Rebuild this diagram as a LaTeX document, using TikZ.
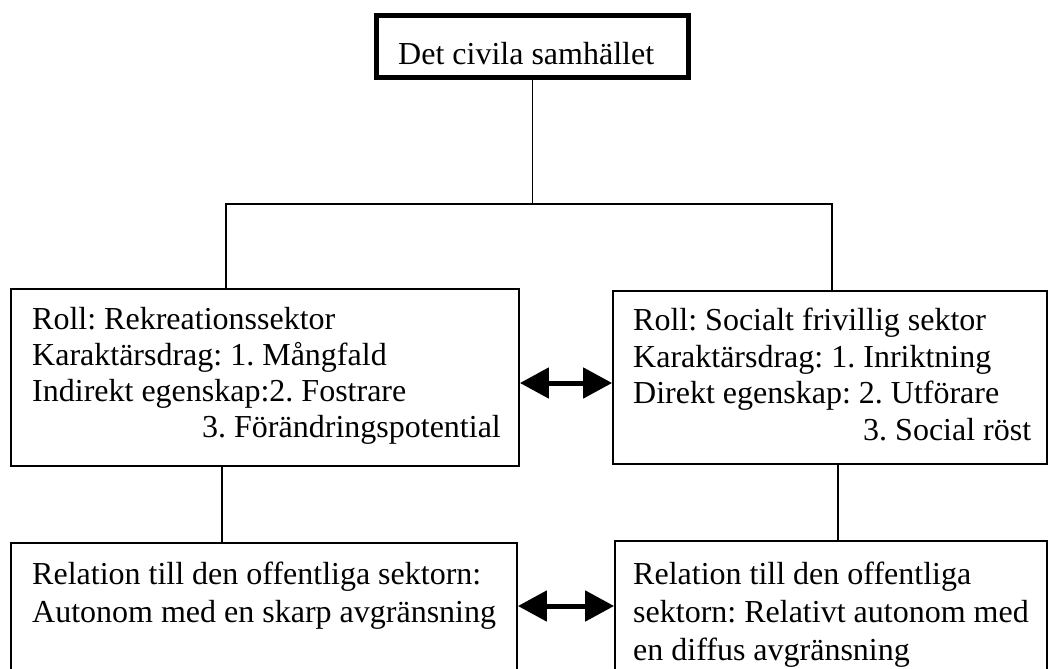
\documentclass[tikz,border=0pt]{standalone}
\usepackage{fontspec}
\setmainfont{Liberation Serif}
\usetikzlibrary{arrows.meta}
\frenchspacing
\begin{document}
\begin{tikzpicture}[x=1pt,y=-1pt,
  box/.style={draw=black, line width=1.8pt, rectangle, inner sep=0pt},
  thickbox/.style={draw=black, line width=5pt, rectangle, inner sep=0pt},
  txt/.style={anchor=base west, inner sep=0pt, font=\fontsize{32}{38}\selectfont},
  conn/.style={draw=black, line width=1.8pt},
  dbl/.style={draw=black, line width=5pt, {Triangle[length=29pt,width=30pt]}-{Triangle[length=29pt,width=30pt]}}
]
\useasboundingbox (0,0) rectangle (1050,669);
\clip (0,0) rectangle (1050,669);
\fill[white] (0,0) rectangle (1050,669);

% boxes
\node[thickbox, minimum width=312, minimum height=62] (top) at (532.5,46.5) {};
\node[box, minimum width=508, minimum height=177] (lm) at (265,377.5) {};
\node[box, minimum width=434, minimum height=173] (rm) at (830,377.5) {};
\node[box, minimum width=506, minimum height=157] (lb) at (264,621.5) {};
\node[box, minimum width=432, minimum height=159] (rb) at (831,620.5) {};

% texts
\node[txt] (t0) at (398,65) {Det civila samhället};

\node[txt] (l1) at (32,329) {Roll: Rekreationssektor};
\node[txt] (l2) at (32,365) {Karaktärsdrag: 1. Mångfald};
\node[txt] (l3) at (32,401) {Indirekt egenskap:2. Fostrare};
\node[txt] (l4) at (202,437) {3. Förändringspotential};

\node[txt] (r1) at (633,330) {Roll: Socialt frivillig sektor};
\node[txt] (r2) at (633,367) {Karaktärsdrag: 1. Inriktning};
\node[txt] (r3) at (633,403) {Direkt egenskap: 2. Utförare};
\node[txt] (r4) at (863,440) {3. Social röst};

\node[txt] (b1) at (32,584) {Relation till den offentliga sektorn:};
\node[txt] (b2) at (32,622) {Autonom med en skarp avgränsning};

\node[txt] (c1) at (633,584) {Relation till den offentliga};
\node[txt] (c2) at (633,622) {sektorn: Relativt autonom med};
\node[txt] (c3) at (633,660) {en diffus avgränsning};

% connectors
\coordinate (j) at (532.5,204);
\coordinate (jl) at (226,204);
\coordinate (jr) at (832,204);
\coordinate (dl) at (222,0);
\coordinate (dr) at (838,0);
\coordinate (ya) at (0,383);
\coordinate (yb) at (0,606);

\draw[conn] (top.south) -- (j);
\draw[conn] (jl |- lm.north) -- (jl) -- (jr) -- (jr |- rm.north);
\draw[conn] (dl |- lm.south) -- (dl |- lb.north);
\draw[conn] (dr |- rm.south) -- (dr |- rb.north);

\draw[dbl] (lm.east |- ya) -- (rm.west |- ya);
\draw[dbl] (lb.east |- yb) -- (rb.west |- yb);
\end{tikzpicture}
\end{document}
